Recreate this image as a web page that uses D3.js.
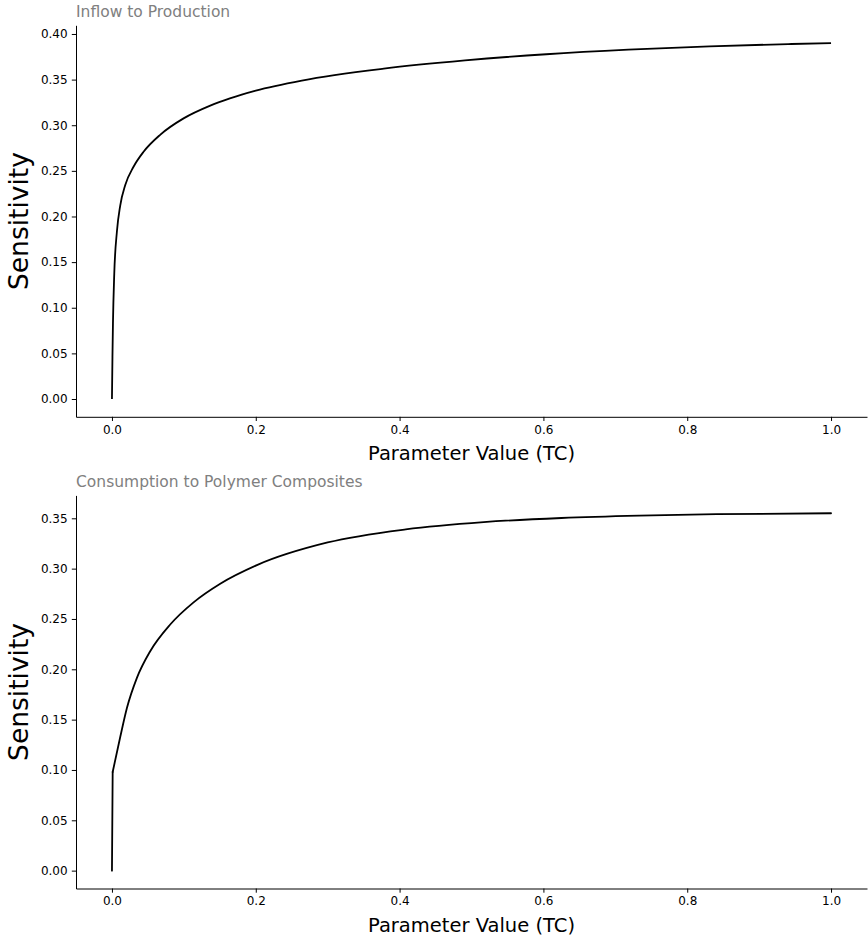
<!DOCTYPE html>
<html><head><meta charset="utf-8">
<script src="https://cdn.jsdelivr.net/npm/d3@7"></script>
<style>
html,body{margin:0;padding:0;background:#fff;}
svg{display:block;font-family:"DejaVu Sans",sans-serif;}
</style></head>
<body>
<script>
// ---- data ----
const xTicks = [0.0, 0.2, 0.4, 0.6, 0.8, 1.0];
const yTicksTop = [0.00, 0.05, 0.10, 0.15, 0.20, 0.25, 0.30, 0.35, 0.40];
const yTicksBottom = [0.00, 0.05, 0.10, 0.15, 0.20, 0.25, 0.30, 0.35];

const titleTop = "Inflow to Production";
const titleBottom = "Consumption to Polymer Composites";
const xLabel = "Parameter Value (TC)";
const yLabel = "Sensitivity";

const xTop = [0, 0.0007, 0.0014, 0.0032, 0.0069, 0.0115, 0.0185, 0.030, 0.044, 0.067, 0.0996, 0.1367, 0.164, 0.2, 0.264, 0.378, 0.491, 0.604, 0.718, 0.831, 0.945, 1.0];
const yTop = [0, 0.046, 0.083, 0.137, 0.1835, 0.212, 0.2345, 0.2545, 0.2710, 0.2895, 0.3075, 0.3215, 0.3295, 0.3380, 0.3490, 0.3620, 0.3710, 0.3778, 0.3828, 0.3865, 0.3890, 0.3900];

const xBottom = [0, 0.001, 0.0115, 0.0208, 0.0347, 0.0532, 0.081, 0.1135, 0.1506, 0.2016, 0.300, 0.4086, 0.517, 0.625, 0.733, 0.841, 1.0];
const yBottom = [0, 0.098, 0.1327, 0.1615, 0.1915, 0.2180, 0.2445, 0.2665, 0.2850, 0.3035, 0.3260, 0.3390, 0.3462, 0.3503, 0.3527, 0.3541, 0.3550];

// ---- layout ----
const W = 868, H = 936;
const svg = d3.select("body").append("svg").attr("width", W).attr("height", H);
svg.append("rect").attr("width", W).attr("height", H).attr("fill", "#fff");

const left = 76, right = 867;
const panels = [
  {title: titleTop, xs: xTop, ys: yTop, yTicks: yTicksTop, top: 25.3, bottom: 416.8, linearHead: 0},
  {title: titleBottom, xs: xBottom, ys: yBottom, yTicks: yTicksBottom, top: 495.4, bottom: 888.5, linearHead: 1}
];

function padDomain(arr) {
  const mn = d3.min(arr), mx = d3.max(arr), r = mx - mn;
  return [mn - 0.05 * r, mx + 0.05 * r];
}

panels.forEach(p => {
  const x = d3.scaleLinear().domain(padDomain(p.xs)).range([left, right]);
  const y = d3.scaleLinear().domain(padDomain(p.ys)).range([p.bottom, p.top]);
  const g = svg.append("g");

  // y axis
  const ya = g.append("g").attr("transform", `translate(${left},0)`)
    .call(d3.axisLeft(y).tickValues(p.yTicks).tickFormat(d3.format(".2f"))
      .tickSize(4.2).tickPadding(4.2).tickSizeOuter(0));
  ya.select(".domain").attr("stroke", "#000").attr("stroke-width", 1);
  ya.selectAll(".tick line").attr("stroke", "#000").attr("stroke-width", 1);
  ya.selectAll(".tick text").attr("font-size", 12).attr("fill", "#000")
    .attr("font-family", "DejaVu Sans");

  // x axis
  const xa = g.append("g").attr("transform", `translate(0,${p.bottom})`)
    .call(d3.axisBottom(x).tickValues(xTicks).tickFormat(d3.format(".1f"))
      .tickSize(4.2).tickPadding(4.2).tickSizeOuter(0));
  xa.select(".domain").attr("stroke", "#000").attr("stroke-width", 1);
  xa.selectAll(".tick line").attr("stroke", "#000").attr("stroke-width", 1);
  xa.selectAll(".tick text").attr("font-size", 12).attr("fill", "#000")
    .attr("font-family", "DejaVu Sans");

  // line
  const data = p.xs.map((v, i) => [v, p.ys[i]]);
  const lin = d3.line().x(d => x(d[0])).y(d => y(d[1]));
  const smooth = d3.line().x(d => x(d[0])).y(d => y(d[1])).curve(d3.curveMonotoneX);
  const k = p.linearHead;
  if (k > 0) {
    g.append("path").datum(data.slice(0, k + 1))
      .attr("fill", "none").attr("stroke", "#000").attr("stroke-width", 1.8)
      .attr("stroke-linecap", "round").attr("d", lin);
  }
  g.append("path").datum(data.slice(k))
    .attr("fill", "none").attr("stroke", "#000").attr("stroke-width", 1.8)
    .attr("stroke-linejoin", "round").attr("stroke-linecap", k > 0 ? "round" : "butt")
    .attr("d", smooth);

  // title
  g.append("text").attr("x", left).attr("y", p.top - 8)
    .attr("font-size", 15.5).attr("fill", "#808080").text(p.title);

  // x label
  g.append("text").attr("x", (left + right) / 2).attr("y", p.bottom + 43)
    .attr("text-anchor", "middle").attr("font-size", 19.5).attr("fill", "#000").text(xLabel);

  // y label
  g.append("text")
    .attr("transform", `translate(28,${(p.top + p.bottom) / 2}) rotate(-90)`)
    .attr("text-anchor", "middle").attr("font-size", 26.5).attr("fill", "#000").text(yLabel);
});
</script>
</body></html>
